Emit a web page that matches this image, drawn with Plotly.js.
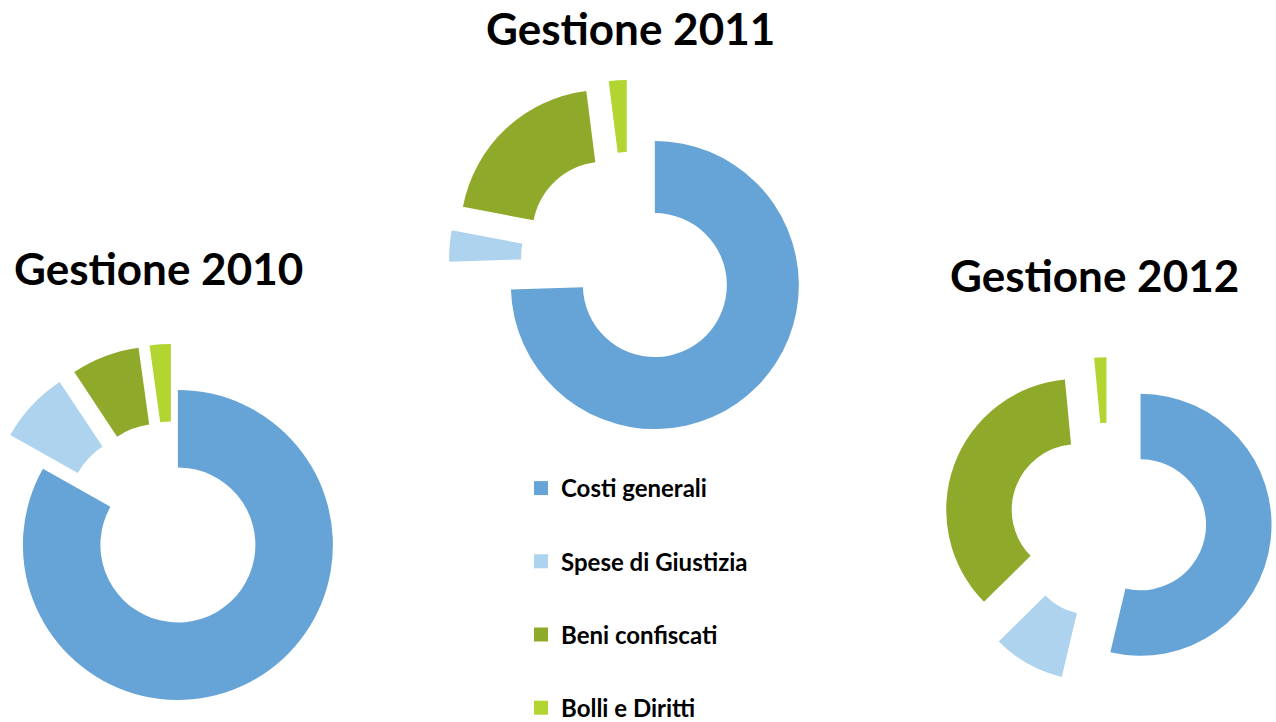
<!DOCTYPE html>
<html>
<head>
<meta charset="utf-8">
<script src="https://cdn.plot.ly/plotly-3.0.1.min.js"></script>
<style>
html, body { margin:0; padding:0; overflow:hidden; background:#ffffff; width:1276px; height:722px; }
#chart { position:absolute; left:-40px; top:0; width:1316px; height:760px; }
</style>
</head>
<body>
<div id="chart"></div>
<script>
// ---- data ----
const categories = ['Costi generali', 'Spese di Giustizia', 'Beni confiscati', 'Bolli e Diritti'];
const years = ['Gestione 2010', 'Gestione 2011', 'Gestione 2012'];
const values2010 = [83.1, 7.5, 7.1, 2.2];
const values2011 = [74.5, 3.5, 20.0, 2.0];
const values2012 = [53.7, 8.9, 35.9, 1.5];

// ---- style / layout ----
const colors = ['#66A3D6', '#AED3EE', '#8FAA2A', '#B3D531'];
const W = 1316, H = 760, OX = 40, OY = 0;
const FONT = 'Lato, "Open Sans", sans-serif';

// page-pixel geometry of each donut (centre, radius) and its explosion
const pies = [
  {vals: values2010, cx: 173.6, cy: 537.6, r: 155, pull: [0.055, 0.25, 0.25, 0.25]},
  {vals: values2011, cx: 629,   cy: 260,   r: 144, pull: [0.25, 0.25, 0.25, 0.25]},
  {vals: values2012, cx: 1108,  cy: 521,   r: 131, pull: [0.25, 0.25, 0.25, 0.25]}
];
const titlePos = [[158, 268], [630, 28], [1094, 275]];

const data = pies.map((p, i) => {
  const maxPull = Math.max(...p.pull);
  const box = 2 * p.r * (1 + maxPull);
  const x0 = (p.cx + OX - box / 2) / W, x1 = (p.cx + OX + box / 2) / W;
  const y0 = 1 - (p.cy + OY + box / 2) / H, y1 = 1 - (p.cy + OY - box / 2) / H;
  return {
    type: 'pie', name: years[i], labels: categories, values: p.vals,
    hole: 0.5, sort: false, direction: 'clockwise', rotation: 0,
    pull: p.pull, textinfo: 'none', showlegend: false,
    marker: {colors: colors, line: {width: 0}},
    domain: {x: [x0, x1], y: [y0, y1]}
  };
});

// legend entries (proxy traces with no drawable point)
categories.forEach((c, i) => {
  data.push({
    type: 'scatter', mode: 'markers', x: [null], y: [null], name: c, legendgroup: 'g' + i,
    marker: {color: colors[i], symbol: 'square', size: 14}, showlegend: true, hoverinfo: 'skip'
  });
});

const annotations = years.map((t, i) => ({
  text: t, xref: 'paper', yref: 'paper',
  x: (titlePos[i][0] + OX) / W, y: 1 - (titlePos[i][1] + OY) / H,
  xanchor: 'center', yanchor: 'middle', showarrow: false,
  font: {family: FONT, size: 44, color: '#000000', weight: 'bold'}
}));

const layout = {
  width: W, height: H,
  margin: {l: 0, r: 0, t: 0, b: 0},
  paper_bgcolor: '#ffffff', plot_bgcolor: 'rgba(0,0,0,0)',
  xaxis: {visible: false}, yaxis: {visible: false},
  showlegend: true,
  legend: {
    x: (521 + OX) / W, y: 1 - (466 + OY) / H, xanchor: 'left', yanchor: 'top',
    tracegroupgap: 39, traceorder: 'grouped',
    font: {family: FONT, size: 24, color: '#000000', weight: 'bold'},
    bgcolor: 'rgba(0,0,0,0)'
  },
  annotations: annotations
};

Plotly.newPlot('chart', data, layout, {displayModeBar: false, staticPlot: true});
</script>
</body>
</html>
